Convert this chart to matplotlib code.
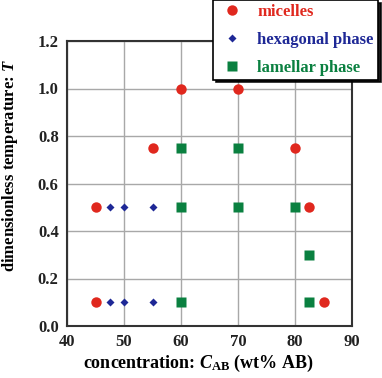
import matplotlib
matplotlib.use("Agg")
import matplotlib.pyplot as plt

plt.rcParams['font.family'] = ['Liberation Serif', 'DejaVu Serif']
plt.rcParams['font.weight'] = 'bold'
plt.rcParams['mathtext.fontset'] = 'custom'
plt.rcParams['mathtext.rm'] = 'Liberation Serif:bold'
plt.rcParams['mathtext.it'] = 'Liberation Serif:italic:bold'
plt.rcParams['mathtext.bf'] = 'Liberation Serif:bold'

mic_x = [45, 45, 55, 60, 70, 80, 82.5, 85]
mic_y = [0.5, 0.1, 0.75, 1.0, 1.0, 0.75, 0.5, 0.1]
hex_x = [47.5, 50, 55, 47.5, 50, 55]
hex_y = [0.5, 0.5, 0.5, 0.1, 0.1, 0.1]
lam_x = [60, 70, 60, 70, 80, 82.5, 60, 82.5]
lam_y = [0.75, 0.75, 0.5, 0.5, 0.5, 0.3, 0.1, 0.1]

xticks = [40, 50, 60, 70, 80, 90]
yticks = [0.0, 0.2, 0.4, 0.6, 0.8, 1.0, 1.2]

red = '#e0281e'
blue = '#1e2896'
green = '#0a8040'

fig = plt.figure(figsize=(3.82, 3.78), dpi=100)
ax = fig.add_axes([67/382, 1 - 326/378, 285/382, 285/378])

ax.plot(mic_x, mic_y, 'o', color=red, ms=7.5, mec='none', label='micelles', zorder=3)
ax.plot(hex_x, hex_y, 'D', color=blue, ms=4.5, mec='none', label='hexagonal phase', zorder=3)
ax.plot(lam_x, lam_y, 's', color=green, ms=7.5, mec='none', label='lamellar phase', zorder=3)

ax.set_xlim(40, 90)
ax.set_ylim(0, 1.2)
ax.set_xticks(xticks)
ax.set_yticks(yticks)
ax.set_yticklabels([f'{v:.1f}' for v in yticks])
ax.grid(True, color='#a8a8a8', lw=1.0)
ax.set_axisbelow(True)
for s in ax.spines.values():
    s.set_color('#333333')
    s.set_linewidth(1.5)
ax.tick_params(length=0, labelsize=12, pad=6, colors='#222222')
for lab in ax.get_xticklabels() + ax.get_yticklabels():
    lab.set_fontweight('bold')

ax.set_xlabel(r'concentration: $\mathit{C}_{\mathrm{AB}}$ (wt% AB)', fontsize=13, fontweight='bold')
ax.set_ylabel(r'dimensionless temperature: $\mathit{T}$', fontsize=12, fontweight='bold')
ax.xaxis.set_label_coords(0.46, -0.095)
ax.yaxis.set_label_coords(-0.165, 0.565)

leg = fig.legend(loc='upper right', bbox_to_anchor=(378/382, 1.0), frameon=True,
                 fancybox=False, shadow={'color': 'black', 'alpha': 0.9}, edgecolor='black',
                 handletextpad=0.6, labelspacing=0.7, borderpad=0.25, handlelength=1.8,
                 borderaxespad=0.0,
                 prop={'weight': 'bold', 'size': 12})
leg.get_frame().set_linewidth(1.2)
for t, c in zip(leg.get_texts(), [red, blue, green]):
    t.set_color(c)

fig.savefig('out.png', dpi=100)
